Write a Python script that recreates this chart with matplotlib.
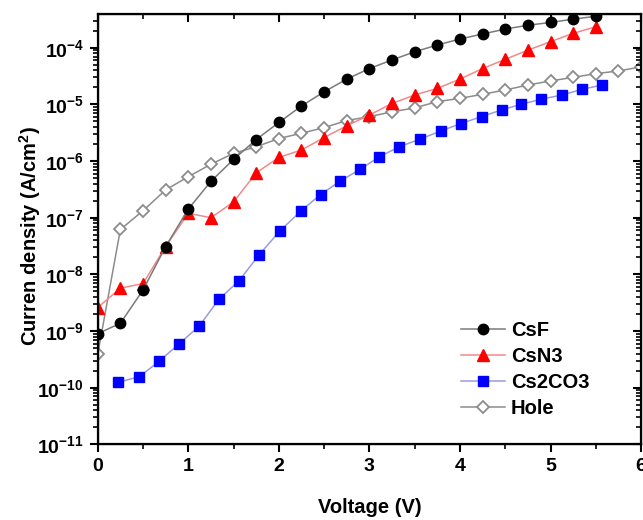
import matplotlib
matplotlib.use("Agg")
import matplotlib.pyplot as plt
import numpy as np
from matplotlib.ticker import FuncFormatter, MultipleLocator, LogLocator, NullFormatter

plt.rcParams['font.family'] = ['Liberation Sans', 'DejaVu Sans']
plt.rcParams['font.weight'] = 'bold'
plt.rcParams['mathtext.fontset'] = 'custom'
plt.rcParams['mathtext.rm'] = 'Liberation Sans:bold'
plt.rcParams['mathtext.bf'] = 'Liberation Sans:bold'

# voltage grids
v_std = [0, 0.25, 0.5, 0.75, 1.0, 1.25, 1.5, 1.75, 2.0, 2.25, 2.5, 2.75, 3.0,
         3.25, 3.5, 3.75, 4.0, 4.25, 4.5, 4.75, 5.0, 5.25, 5.5]
v_hole = v_std + [5.75, 6.0]
v_cs2co3 = [0.22, 0.46, 0.68, 0.90, 1.12, 1.34, 1.56, 1.78, 2.01, 2.24, 2.46,
            2.68, 2.90, 3.11, 3.33, 3.56, 3.79, 4.01, 4.24, 4.46, 4.67, 4.90,
            5.13, 5.35, 5.57]

# current densities (A/cm^2)
j_csf = [9e-10, 1.37e-9, 5.3e-9, 3.1e-8, 1.42e-7, 4.4e-7, 1.07e-6, 2.4e-6,
         4.8e-6, 9.4e-6, 1.67e-5, 2.8e-5, 4.3e-5, 6.1e-5, 8.5e-5, 1.12e-4,
         1.43e-4, 1.75e-4, 2.14e-4, 2.5e-4, 2.8e-4, 3.2e-4, 3.6e-4]
j_csn3 = [2.6e-9, 5.7e-9, 6.9e-9, 3.1e-8, 1.2e-7, 1.0e-7, 1.9e-7, 6.2e-7,
          1.16e-6, 1.57e-6, 2.6e-6, 4.2e-6, 6.5e-6, 1.04e-5, 1.47e-5, 1.92e-5,
          2.8e-5, 4.3e-5, 6.25e-5, 9.1e-5, 1.28e-4, 1.8e-4, 2.35e-4]
j_cs2co3 = [1.24e-10, 1.56e-10, 2.95e-10, 5.97e-10, 1.22e-9, 3.67e-9, 7.7e-9,
            2.2e-8, 5.8e-8, 1.3e-7, 2.57e-7, 4.45e-7, 7.2e-7, 1.19e-6, 1.79e-6,
            2.45e-6, 3.4e-6, 4.6e-6, 6.1e-6, 8.0e-6, 1.0e-5, 1.24e-5, 1.47e-5,
            1.85e-5, 2.2e-5]
j_hole = [3.9e-10, 6.2e-8, 1.33e-7, 3.1e-7, 5.3e-7, 8.8e-7, 1.37e-6, 1.79e-6,
          2.5e-6, 3.1e-6, 3.9e-6, 5.2e-6, 6.1e-6, 7.4e-6, 8.7e-6, 1.12e-5,
          1.28e-5, 1.51e-5, 1.8e-5, 2.2e-5, 2.6e-5, 3.0e-5, 3.5e-5, 3.9e-5,
          4.6e-5]

fig = plt.figure(figsize=(6.43, 5.2), dpi=100)
ax = fig.add_axes([0.152, 0.1455, 0.845, 0.827])

ax.plot(v_std, j_csf, color='#7a7a7a', lw=1.1, marker='o', ms=7.5,
        mfc='black', mec='black', label='CsF', zorder=4)
ax.plot(v_std, j_csn3, color='#f08a8a', lw=1.1, marker='^', ms=8,
        mfc='#ff0000', mec='#ff0000', label='CsN3', zorder=3)
ax.plot(v_cs2co3, j_cs2co3, color='#9a9ae0', lw=1.1, marker='s', ms=6.5,
        mfc='#0000ff', mec='#0000ff', label='Cs2CO3', zorder=3)
ax.plot(v_hole, j_hole, color='#8c8c8c', lw=1.1, marker='D', ms=6.5,
        mfc='white', mec='#8c8c8c', mew=1.3, label='Hole', zorder=2)

ax.set_yscale('log')
ax.set_xlim(0, 6)
ax.set_ylim(1e-11, 3.9e-4)

ax.xaxis.set_major_locator(MultipleLocator(1))
ax.xaxis.set_minor_locator(MultipleLocator(0.5))
ax.yaxis.set_major_locator(LogLocator(base=10, numticks=20))
ax.yaxis.set_minor_locator(LogLocator(base=10, subs=np.arange(2, 10), numticks=20))
ax.yaxis.set_minor_formatter(NullFormatter())
ax.yaxis.set_major_formatter(FuncFormatter(lambda v, p: r'$\mathbf{10^{%d}}$' % round(np.log10(v))))

ax.tick_params(which='major', direction='out', length=6, width=1.5, labelsize=14, pad=4)
ax.tick_params(which='minor', direction='out', length=3.5, width=1.2)
for s in ax.spines.values():
    s.set_linewidth(1.6)

# top and right ticks point inward
axt = ax.twiny()
axt.set_xlim(0, 6)
axt.xaxis.set_major_locator(MultipleLocator(1))
axt.xaxis.set_minor_locator(MultipleLocator(0.5))
axt.tick_params(which='major', direction='in', length=6, width=1.5, labeltop=False)
axt.tick_params(which='minor', direction='in', length=3.5, width=1.2)
axr = ax.twinx()
axr.set_yscale('log')
axr.set_ylim(1e-11, 3.9e-4)
axr.yaxis.set_major_locator(LogLocator(base=10, numticks=20))
axr.yaxis.set_minor_locator(LogLocator(base=10, subs=np.arange(2, 10), numticks=20))
axr.tick_params(which='major', direction='in', length=6, width=1.5, labelright=False)
axr.tick_params(which='minor', direction='in', length=3.5, width=1.2)

ax.set_xlabel('Voltage (V)', fontsize=14.5, fontweight='bold')
ax.set_ylabel(r'Curren density (A/cm$^{\mathbf{2}}$)', fontsize=14.5, fontweight='bold')
ax.xaxis.set_label_coords(0.5, -0.125)
ax.yaxis.set_label_coords(-0.1, 0.484)

ax.legend(loc='upper left', bbox_to_anchor=(0.668, 0.287), frameon=False,
          fontsize=14.5, handlelength=2.2, handletextpad=0.3, labelspacing=0.35,
          borderpad=0, borderaxespad=0)

fig.savefig('out.png', dpi=100)
